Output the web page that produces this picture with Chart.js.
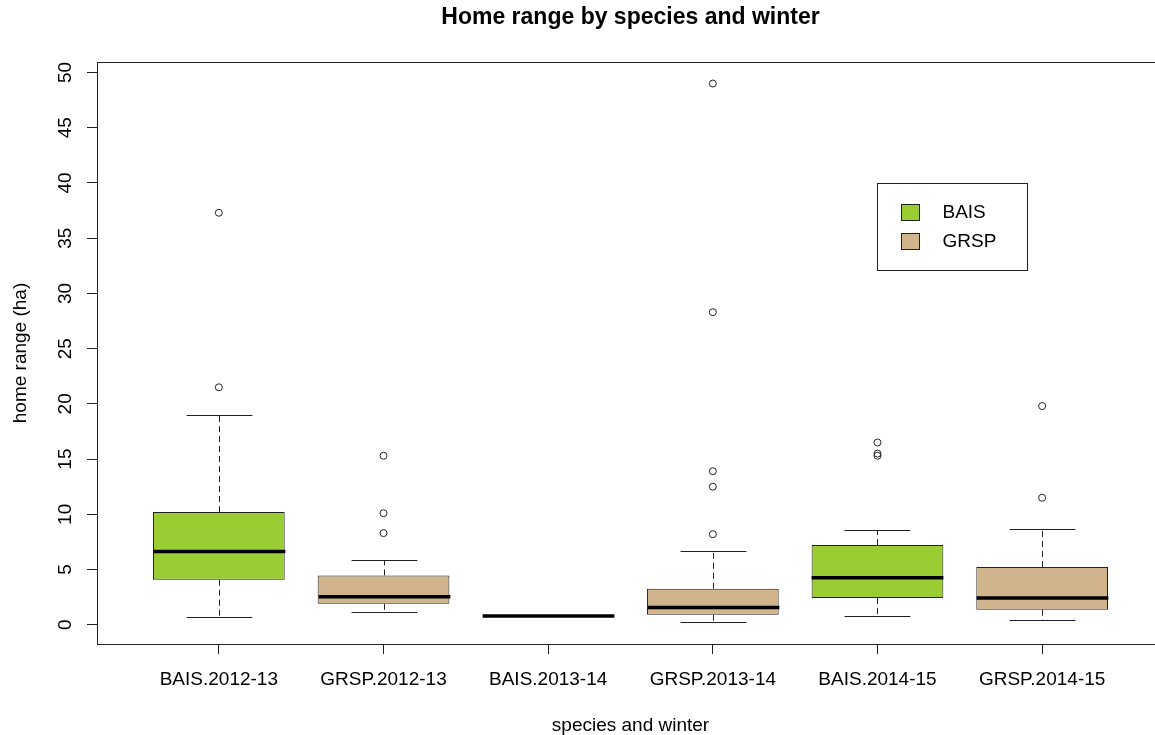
<!DOCTYPE html>
<html>
<head>
<meta charset="utf-8">
<script src="https://cdn.jsdelivr.net/npm/chart.js@4.4.1/dist/chart.umd.min.js"></script>
<style>
html,body{margin:0;padding:0;background:#fff;overflow:hidden;}
#wrap{width:1155px;height:735px;overflow:hidden;position:relative;}
canvas{display:block;}
</style>
</head>
<body>
<div id="wrap"><canvas id="c" width="1175" height="735"></canvas></div>
<script>
// ---- data ----
const categories = ['BAIS.2012-13','GRSP.2012-13','BAIS.2013-14','GRSP.2013-14','BAIS.2014-15','GRSP.2014-15'];
const species    = ['BAIS','GRSP','BAIS','GRSP','BAIS','GRSP'];
const whiskerLow  = [0.70, 1.15, 0.80, 0.21, 0.82, 0.39];
const q1          = [4.08, 1.90, 0.80, 0.91, 2.42, 1.36];
const median      = [6.64, 2.54, 0.80, 1.57, 4.26, 2.42];
const q3          = [10.20, 4.47, 0.80, 3.26, 7.22, 5.23];
const whiskerHigh = [18.96, 5.89, 0.80, 6.64, 8.58, 8.70];
const outliers = [
  [37.3, 21.5],
  [15.3, 10.1, 8.3],
  [],
  [49.0, 28.3, 13.9, 12.5, 8.2],
  [16.5, 15.5, 15.3],
  [19.8, 11.5]
];
const yTicks = [0, 5, 10, 15, 20, 25, 30, 35, 40, 45, 50];
const legendLabels = ['BAIS', 'GRSP'];
const speciesColors = { BAIS: '#9ACD32', GRSP: '#D2B48C' };

// ---- build ----
const FONT = "'Liberation Sans', Arial, sans-serif";
const xPos = categories.map((c, i) => i + 1);

function boxData(sp) {
  return categories
    .map((c, i) => species[i] === sp ? { x: xPos[i], y: [q1[i], q3[i]] } : null)
    .filter(Boolean);
}
const outlierPoints = outliers.flatMap((arr, i) => arr.map(v => ({ x: xPos[i], y: v })));

const boxPlugin = {
  id: 'boxExtras',
  afterDatasetsDraw(chart) {
    const { ctx, scales: { x, y } } = chart;
    const w = chart.getDatasetMeta(0).data[0].width;
    ctx.save();
    categories.forEach((c, i) => {
      const cx = Math.round(x.getPixelForValue(xPos[i])) + 0.5;
      const pLow = Math.round(y.getPixelForValue(whiskerLow[i])) + 0.5;
      const pQ1 = y.getPixelForValue(q1[i]);
      const pQ3 = y.getPixelForValue(q3[i]);
      const pHigh = Math.round(y.getPixelForValue(whiskerHigh[i])) + 0.5;
      const pMed = y.getPixelForValue(median[i]);
      ctx.strokeStyle = '#222';
      ctx.lineWidth = 1;
      ctx.setLineDash([6, 4]);
      ctx.beginPath();
      if (pQ3 - pHigh > 1) { ctx.moveTo(cx, pQ3); ctx.lineTo(cx, pHigh); }
      if (pLow - pQ1 > 1) { ctx.moveTo(cx, pQ1); ctx.lineTo(cx, pLow); }
      ctx.stroke();
      ctx.setLineDash([]);
      ctx.beginPath();
      ctx.moveTo(cx - w / 4, pHigh); ctx.lineTo(cx + w / 4, pHigh);
      ctx.moveTo(cx - w / 4, pLow); ctx.lineTo(cx + w / 4, pLow);
      ctx.stroke();
      ctx.strokeStyle = '#000';
      ctx.lineWidth = 3.5;
      ctx.beginPath();
      ctx.moveTo(cx - w / 2, pMed); ctx.lineTo(cx + w / 2, pMed);
      ctx.stroke();
    });
    ctx.restore();
  }
};

const framePlugin = {
  id: 'frameLegend',
  afterDraw(chart, args, opts) {
    const { ctx, chartArea: a, scales: { x, y } } = chart;
    ctx.save();
    ctx.strokeStyle = '#222';
    ctx.lineWidth = 1;
    ctx.strokeRect(Math.round(a.left) + 0.5, Math.round(a.top) + 0.5,
                   Math.round(a.right - a.left), Math.round(a.bottom - a.top));
    // legend
    const lx = Math.round(x.getPixelForValue(opts.x)) + 0.5;
    const ly = Math.round(y.getPixelForValue(opts.y)) + 0.5;
    ctx.fillStyle = '#fff';
    ctx.fillRect(lx, ly, opts.w, opts.h);
    ctx.strokeRect(lx, ly, opts.w, opts.h);
    ctx.font = '19px ' + FONT;
    ctx.textBaseline = 'middle';
    ctx.textAlign = 'left';
    legendLabels.forEach((lab, i) => {
      const sy = ly + 21 + i * 29;
      ctx.fillStyle = speciesColors[lab];
      ctx.fillRect(lx + 24, sy, 18, 16);
      ctx.strokeStyle = '#222';
      ctx.strokeRect(lx + 24, sy, 18, 16);
      ctx.fillStyle = '#000';
      ctx.fillText(lab, lx + 65, sy + 8);
    });
    ctx.restore();
  }
};

new Chart(document.getElementById('c'), {
  type: 'bar',
  data: {
    datasets: [
      { label: 'BAIS', data: boxData('BAIS'), backgroundColor: speciesColors.BAIS, borderColor: '#222', borderWidth: 1, borderSkipped: false, grouped: false, categoryPercentage: 0.8, barPercentage: 1 },
      { label: 'GRSP', data: boxData('GRSP'), backgroundColor: speciesColors.GRSP, borderColor: '#222', borderWidth: 1, borderSkipped: false, grouped: false, categoryPercentage: 0.8, barPercentage: 1 },
      { type: 'scatter', label: 'outliers', data: outlierPoints, pointStyle: 'circle', radius: 3.5, borderWidth: 1, borderColor: '#222', backgroundColor: 'rgba(0,0,0,0)' }
    ]
  },
  options: {
    responsive: false,
    devicePixelRatio: 1,
    animation: false,
    layout: { padding: { left: 0, top: 0, right: 11, bottom: 0 } },
    plugins: {
      legend: { display: false },
      tooltip: { enabled: false },
      title: {
        display: true, text: 'Home range by species and winter', fullSize: false, color: '#000',
        font: { family: FONT, size: 23, weight: 'bold', lineHeight: 1.2 },
        padding: { top: 4, bottom: 30.4 }
      },
      frameLegend: { x: 5.0, y: 40, w: 150, h: 87 }
    },
    scales: {
      x: {
        type: 'linear', min: 0.26, max: 6.74, offset: false,
        afterBuildTicks: s => { s.ticks = xPos.map(v => ({ value: v })); },
        afterFit: s => { s.height = 91; },
        ticks: {
          autoSkip: false, maxRotation: 0, minRotation: 0, padding: 14, color: '#000',
          font: { family: FONT, size: 19 },
          callback: v => categories[Math.round(v) - 1]
        },
        grid: { display: true, offset: false, drawOnChartArea: false, drawTicks: true, tickLength: 10, color: '#222', lineWidth: 1 },
        border: { display: false },
        title: { display: true, text: 'species and winter', color: '#000', font: { family: FONT, size: 19, lineHeight: 1 }, padding: 0 }
      },
      y: {
        type: 'linear', min: -1.74, max: 50.95,
        afterBuildTicks: s => { s.ticks = yTicks.map(v => ({ value: v })); },
        afterFit: s => { s.width = 97; },
        ticks: {
          minRotation: 90, maxRotation: 90, crossAlign: 'center', padding: 11, color: '#000',
          font: { family: FONT, size: 19 }
        },
        grid: { display: true, drawOnChartArea: false, drawTicks: true, tickLength: 10, color: '#222', lineWidth: 1 },
        border: { display: false },
        title: { display: true, text: 'home range (ha)', color: '#000', font: { family: FONT, size: 19, lineHeight: 1.2 }, padding: { top: 9, bottom: 0 } }
      }
    }
  },
  plugins: [boxPlugin, framePlugin]
});
</script>
</body>
</html>
